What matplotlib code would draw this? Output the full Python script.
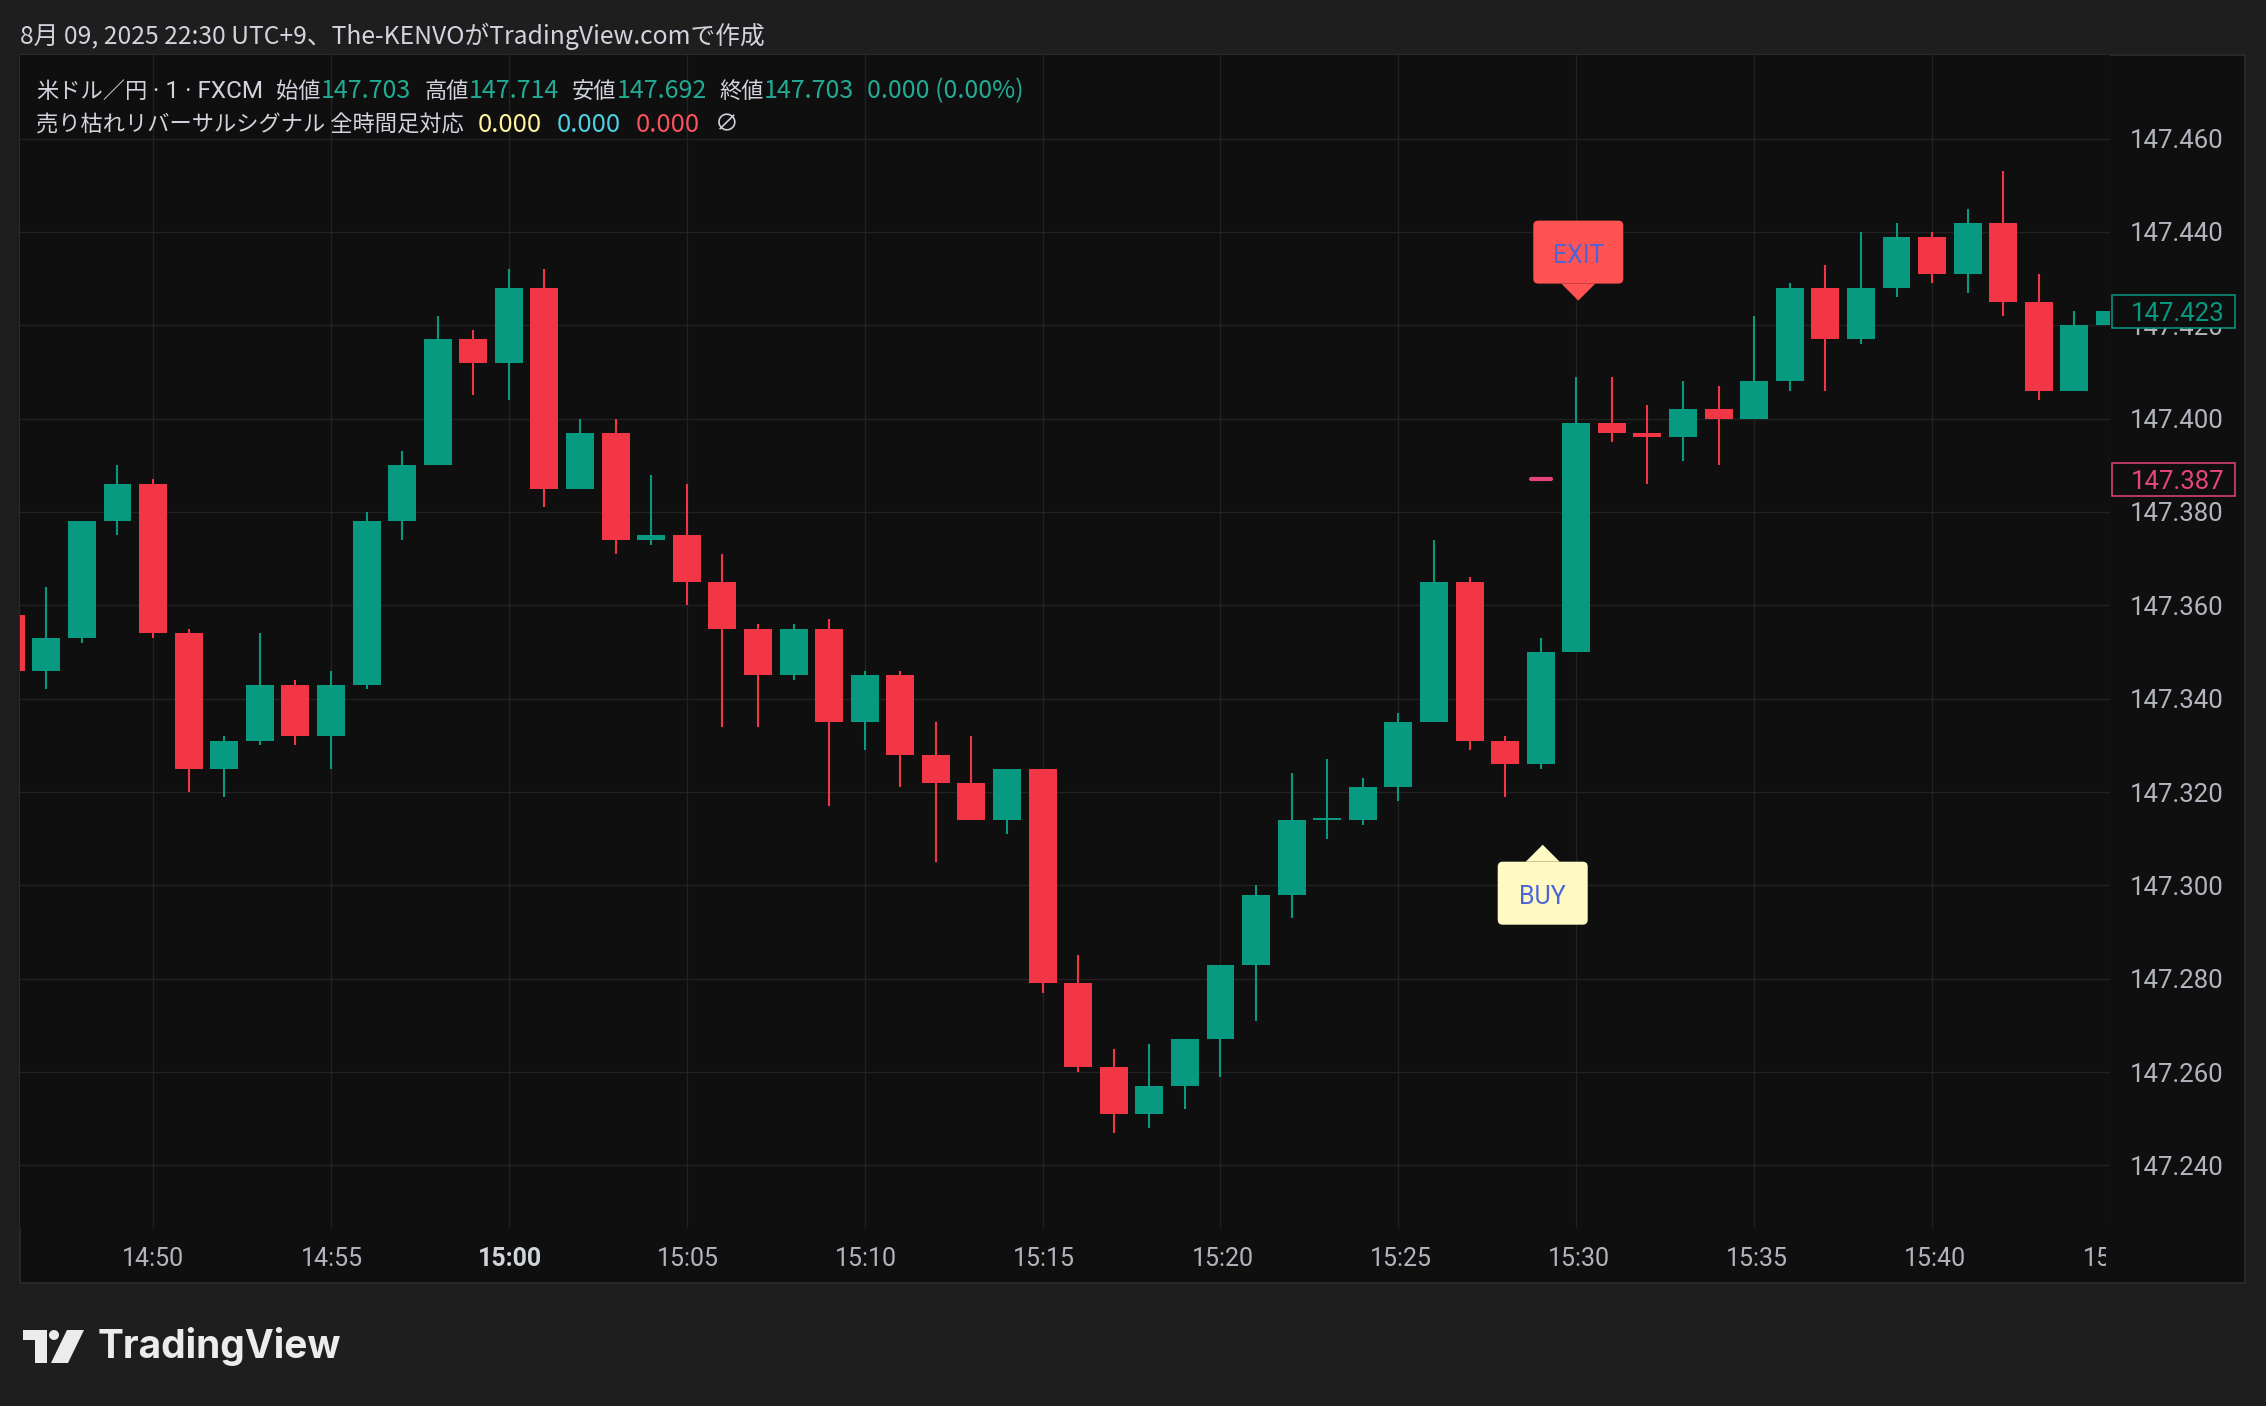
import matplotlib
matplotlib.use("Agg")
import matplotlib.pyplot as plt
from matplotlib.patches import Rectangle, FancyBboxPatch, Polygon, Circle
from matplotlib.transforms import IdentityTransform

# 1-minute candles, USD/JPY (FXCM)
times = ["14:46", "14:47", "14:48", "14:49", "14:50", "14:51", "14:52", "14:53", "14:54", "14:55",
         "14:56", "14:57", "14:58", "14:59", "15:00", "15:01", "15:02", "15:03", "15:04", "15:05",
         "15:06", "15:07", "15:08", "15:09", "15:10", "15:11", "15:12", "15:13", "15:14", "15:15",
         "15:16", "15:17", "15:18", "15:19", "15:20", "15:21", "15:22", "15:23", "15:24", "15:25",
         "15:26", "15:27", "15:28", "15:29", "15:30", "15:31", "15:32", "15:33", "15:34", "15:35",
         "15:36", "15:37", "15:38", "15:39", "15:40", "15:41", "15:42", "15:43", "15:44", "15:45"]
opens = [147.358, 147.346, 147.353, 147.378, 147.386, 147.354, 147.325, 147.331, 147.343, 147.332,
         147.343, 147.378, 147.390, 147.417, 147.412, 147.428, 147.385, 147.397, 147.374, 147.375,
         147.365, 147.355, 147.345, 147.355, 147.335, 147.345, 147.328, 147.322, 147.314, 147.325,
         147.279, 147.261, 147.251, 147.257, 147.267, 147.283, 147.298, 147.314, 147.314, 147.321,
         147.335, 147.365, 147.331, 147.326, 147.350, 147.399, 147.397, 147.396, 147.402, 147.400,
         147.408, 147.428, 147.417, 147.428, 147.439, 147.431, 147.442, 147.425, 147.406, 147.420]
highs = [147.361, 147.364, 147.378, 147.390, 147.387, 147.355, 147.332, 147.354, 147.344, 147.346,
         147.380, 147.393, 147.422, 147.419, 147.432, 147.432, 147.400, 147.400, 147.388, 147.386,
         147.371, 147.356, 147.356, 147.357, 147.346, 147.346, 147.335, 147.332, 147.325, 147.325,
         147.285, 147.265, 147.266, 147.267, 147.283, 147.300, 147.324, 147.327, 147.323, 147.337,
         147.374, 147.366, 147.332, 147.353, 147.409, 147.409, 147.403, 147.408, 147.407, 147.422,
         147.429, 147.433, 147.440, 147.442, 147.440, 147.445, 147.453, 147.431, 147.423, 147.423]
lows = [147.344, 147.342, 147.352, 147.375, 147.353, 147.320, 147.319, 147.330, 147.330, 147.325,
        147.342, 147.374, 147.390, 147.405, 147.404, 147.381, 147.385, 147.371, 147.373, 147.360,
        147.334, 147.334, 147.344, 147.317, 147.329, 147.321, 147.305, 147.314, 147.311, 147.277,
        147.260, 147.247, 147.248, 147.252, 147.259, 147.271, 147.293, 147.310, 147.313, 147.318,
        147.335, 147.329, 147.319, 147.325, 147.350, 147.395, 147.386, 147.391, 147.390, 147.400,
        147.406, 147.406, 147.416, 147.426, 147.429, 147.427, 147.422, 147.404, 147.406, 147.420]
closes = [147.346, 147.353, 147.378, 147.386, 147.354, 147.325, 147.331, 147.343, 147.332, 147.343,
          147.378, 147.390, 147.417, 147.412, 147.428, 147.385, 147.397, 147.374, 147.375, 147.365,
          147.355, 147.345, 147.355, 147.335, 147.345, 147.328, 147.322, 147.314, 147.325, 147.279,
          147.261, 147.251, 147.257, 147.267, 147.283, 147.298, 147.314, 147.314, 147.321, 147.335,
          147.365, 147.331, 147.326, 147.350, 147.399, 147.397, 147.396, 147.402, 147.400, 147.408,
          147.428, 147.417, 147.428, 147.439, 147.431, 147.442, 147.425, 147.406, 147.420, 147.423]

buy_times = ["15:29"]
exit_times = ["15:30"]
stop_times = ["15:29"]
stop_levels = [147.387]
last_price = 147.423

price_ticks = [147.240, 147.260, 147.280, 147.300, 147.320, 147.340,
               147.360, 147.380, 147.400, 147.420, 147.440, 147.460]
time_ticks = ["14:50", "14:55", "15:00", "15:05", "15:10", "15:15",
              "15:20", "15:25", "15:30", "15:35", "15:40", "15:45"]

header = "8月 09, 2025 22:30 UTC+9、The-KENVOがTradingView.comで作成"

W, H, DPI = 2266, 1406, 100
BG = "#1e1e1e"
PANEL = "#0f0f0f"
GRID = "#222222"
UP = "#089981"
DOWN = "#f23645"
TXT = "#d1d4dc"
AXT = "#b2b5be"
VAL = "#22ab94"
PINK = "#e5457c"
BLUE = "#4a66d8"
JP = ["Noto Sans CJK JP", "DejaVu Sans"]
LAT = ["Roboto", "DejaVu Sans"]
XLIM = (886.26, 944.9)


def minutes(s):
    h, m = s.split(":")
    return int(h) * 60 + int(m)


def frac(x0, y0, x1, y1):
    # pixel box measured from the top-left -> figure fraction
    return [x0 / W, 1 - y1 / H, (x1 - x0) / W, (y1 - y0) / H]


fig = plt.figure(figsize=(W / DPI, H / DPI), dpi=DPI, facecolor=BG)
ident = IdentityTransform()

fig.add_artist(Rectangle((20, H - 1283), 2225, 1228, transform=ident, facecolor=PANEL,
                         edgecolor="#2c2c2c", lw=1.2, zorder=-1))

ax = fig.add_axes(frac(20, 55, 2110, 1228))
ax.set_facecolor(PANEL)
for sp in ax.spines.values():
    sp.set_visible(False)

bw = 0.786
xs = [minutes(t) for t in times]
for xi, o, h, l, c in zip(xs, opens, highs, lows, closes):
    col = UP if c >= o else DOWN
    ax.vlines(xi, l, h, color=col, lw=1.5, zorder=3)
    ax.add_patch(Rectangle((xi - bw / 2, min(o, c)), bw, max(abs(c - o), 0.0005),
                           facecolor=col, lw=0, zorder=4))

ax.set_xlim(*XLIM)
ax.set_ylim(147.2266, 147.4779)

ax.set_xticks([minutes(t) for t in time_ticks])
ax.set_yticks(price_ticks)
ax.set_yticklabels([f"{p:.3f}" for p in price_ticks], fontfamily=LAT)
ax.yaxis.tick_right()
ax.tick_params(axis="x", length=0, labelbottom=False)
ax.tick_params(axis="y", length=0, pad=14.5, labelsize=18.5, labelcolor=AXT)
ax.grid(True, color=GRID, lw=1.0)
ax.set_axisbelow(True)

# stop level dash
for t, lvl in zip(stop_times, stop_levels):
    xm = minutes(t)
    ax.plot([xm - 0.28, xm + 0.28], [lvl, lvl], color=PINK, lw=3, solid_capstyle="round", zorder=5)

# price boxes on the scale
ytr = ax.get_yaxis_transform()
for p, col in [(last_price, UP), (stop_levels[0], PINK)]:
    hgt = 0.0071
    ax.add_patch(Rectangle((1.001, p - hgt / 2), 0.0589, hgt, transform=ytr, facecolor=PANEL,
                           edgecolor=col, lw=1.1, clip_on=False, zorder=10))
    ax.text(1.0098, p, f"{p:.3f}", transform=ytr, color=col, fontsize=18.5, fontfamily=LAT,
            va="center_baseline", ha="left", clip_on=False, zorder=11)

# time scale (own axes so the last label is clipped at the price scale)
axt = fig.add_axes(frac(20, 1228, 2106, 1283))
axt.set_axis_off()
axt.set_xlim(XLIM[0], XLIM[0] + (XLIM[1] - XLIM[0]) * 2086 / 2090)
for t in time_ticks:
    bold = t == "15:00"
    lab = axt.text(minutes(t), 0.44, t, transform=axt.get_xaxis_transform(), ha="center",
                   va="center", fontsize=18, fontfamily=LAT, color=TXT if bold else AXT,
                   fontweight="bold" if bold else "normal", clip_on=True)
    lab.set_clip_box(axt.bbox)


# BUY / EXIT labels
def signal(t, price, text, face, above):
    cx, cy = ax.transData.transform((minutes(t), price))
    cx += 2
    if above:
        tip = cy + 76
        b0 = tip + 17
        base = b0
    else:
        tip = cy - 76
        b0 = tip - 17 - 63
        base = b0 + 63
    fig.add_artist(FancyBboxPatch((cx - 45, b0), 90, 63, boxstyle="round,pad=0,rounding_size=5",
                                  transform=ident, facecolor=face, lw=0, zorder=6))
    fig.add_artist(Polygon([(cx - 17, base), (cx + 17, base), (cx, tip)], closed=True,
                           transform=ident, facecolor=face, lw=0, zorder=6))
    fig.text(cx, b0 + 27.5, text, transform=ident, ha="center", va="center", color=BLUE,
             fontsize=18, fontfamily=LAT, zorder=7)


for t in exit_times:
    signal(t, highs[times.index(t)], "EXIT", "#ff5252", True)
for t in buy_times:
    signal(t, lows[times.index(t)], "BUY", "#fff9c4", False)

# header + legend
fig.text(20, H - 36, header, transform=ident, va="center", color=TXT, fontsize=17.8, fontfamily=JP)

renderer = fig.canvas.get_renderer()


def pieces(x, y, items):
    for s, col, size, fam, gap in items:
        tx = fig.text(x, y, s, transform=ident, va="center", color=col, fontsize=size, fontfamily=fam)
        x += tx.get_window_extent(renderer=renderer).width + gap


pieces(36, H - 91, [("米ドル／円", TXT, 16, JP, 0), (" · 1 · FXCM", TXT, 17.5, LAT, 13),
                    ("始値", TXT, 16, JP, 0), ("147.703", VAL, 18, JP, 13),
                    ("高値", TXT, 16, JP, 0), ("147.714", VAL, 18, JP, 13),
                    ("安値", TXT, 16, JP, 0), ("147.692", VAL, 18, JP, 13),
                    ("終値", TXT, 16, JP, 0), ("147.703", VAL, 18, JP, 13),
                    ("0.000 (0.00%)", VAL, 18, JP, 0)])
pieces(36, H - 125, [("売り枯れリバーサルシグナル 全時間足対応", TXT, 16, JP, 14),
                     ("0.000", "#fff59d", 18.5, JP, 15), ("0.000", "#4dd0e1", 18.5, JP, 15),
                     ("0.000", "#f7525f", 18.5, JP, 15), ("∅", TXT, 17, JP, 0)])

# TradingView logo
lx, ly = 23, H - 1363
logo = "#ececec"
fig.add_artist(Polygon([(lx, ly + 33), (lx + 24, ly + 33), (lx + 24, ly), (lx + 12, ly),
                        (lx + 12, ly + 23), (lx, ly + 23)], closed=True, transform=ident,
                       facecolor=logo, lw=0))
fig.add_artist(Circle((lx + 31, ly + 28), 5, transform=ident, facecolor=logo, lw=0))
fig.add_artist(Polygon([(lx + 44, ly + 33), (lx + 61, ly + 33), (lx + 45, ly), (lx + 28, ly)],
                       closed=True, transform=ident, facecolor=logo, lw=0))
fig.text(98, H - 1346, "TradingView", transform=ident, va="center", color=logo, fontsize=28,
         fontweight="bold", fontfamily=["Inter", "Roboto", "DejaVu Sans"])

fig.savefig("out.png", dpi=DPI, facecolor=BG)
